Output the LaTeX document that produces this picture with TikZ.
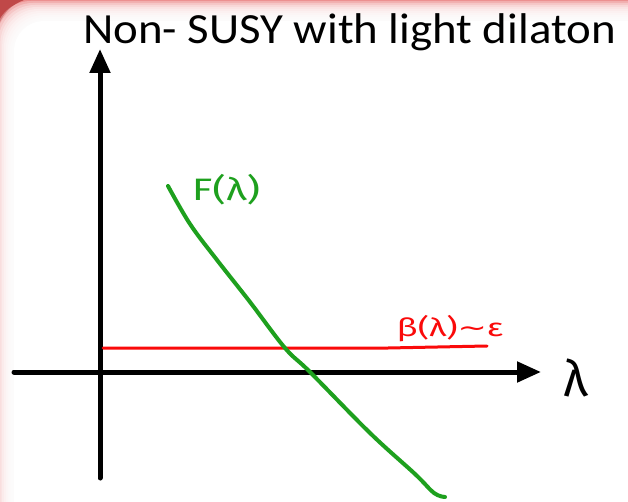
\documentclass[tikz,border=0pt]{standalone}
\usepackage{fontspec}
\setmainfont{Carlito}
\newfontfamily\handfont{Fira Sans}
\newfontfamily\symfont{DejaVu Sans}
\usetikzlibrary{arrows.meta}
\definecolor{slidered}{RGB}{236,140,140}
\definecolor{cornerred}{RGB}{192,72,72}
\definecolor{curvegreen}{RGB}{30,160,30}
\definecolor{betared}{RGB}{250,10,10}

\begin{document}
\begin{tikzpicture}[x=1pt, y=-1pt, line cap=round, line join=round,
  axis/.style={line width=5pt, -{Triangle[length=24pt,width=20pt]}},
  handlabel/.style={inner sep=0pt, font=\handfont\fontsize{#1}{#1}\selectfont},
  handlabel/.default=24]

  %% ==== slide frame (pink glow at the top-left) ====
  \fill[slidered] (0,0) rectangle (628,502);
  \fill[cornerred] (0,0) -- (0,22) .. controls (5,12) and (11,5) .. (24,0) -- cycle;
  \foreach \i in {0,...,9}
    \fill[white, opacity=0.3, rounded corners=36pt] (-5+1.8*\i,1+2*\i) rectangle (700,560);
  \fill[white, rounded corners=30pt] (14,21) rectangle (700,560);

  %% ==== title ====
  \node[anchor=base west, inner sep=0pt, xscale=1.09, font=\fontsize{43}{45}\selectfont] (title) at (83,44) {Non- SUSY with light dilaton};

  %% ==== axes ====
  \coordinate (xstart) at (14,372);
  \coordinate (xend)   at (541,372);
  \coordinate (ystart) at (100,478);
  \coordinate (yend)   at (100,49);
  \draw[axis] (xstart) -- (xend);
  \draw[axis] (ystart) -- (yend);
  \node[handlabel=50, anchor=center] (lam) at (576,378) {λ};

  %% ==== beta(lambda) ~ epsilon (red, flat) ====
  \coordinate (betastart) at (103,348);
  \coordinate (betakink)  at (388,348);
  \coordinate (betaend)   at (487,346);
  \draw[betared, line width=3pt] (betastart) -- (betakink) -- (betaend);
  \node[handlabel=25, xscale=1.4, text=betared, anchor=south] (betalabel) at (450,342) {β(λ){\symfont ∼}ε};

  %% ==== F(lambda) (green, falling) ====
  \draw[curvegreen, line width=4pt] plot[smooth, tension=0.6] coordinates {
    (168,186) (190,224) (217,260) (250,302) (285,348) (310,372)
    (370,433) (415,474) (434,493) (445,497)};
  \node[handlabel=31, xscale=1.35, text=curvegreen, anchor=center] (flabel) at (226,190) {F(λ)};

  % canvas
  \pgfresetboundingbox
  \path[use as bounding box] (0,0) rectangle (628,502);
\end{tikzpicture}
\end{document}
